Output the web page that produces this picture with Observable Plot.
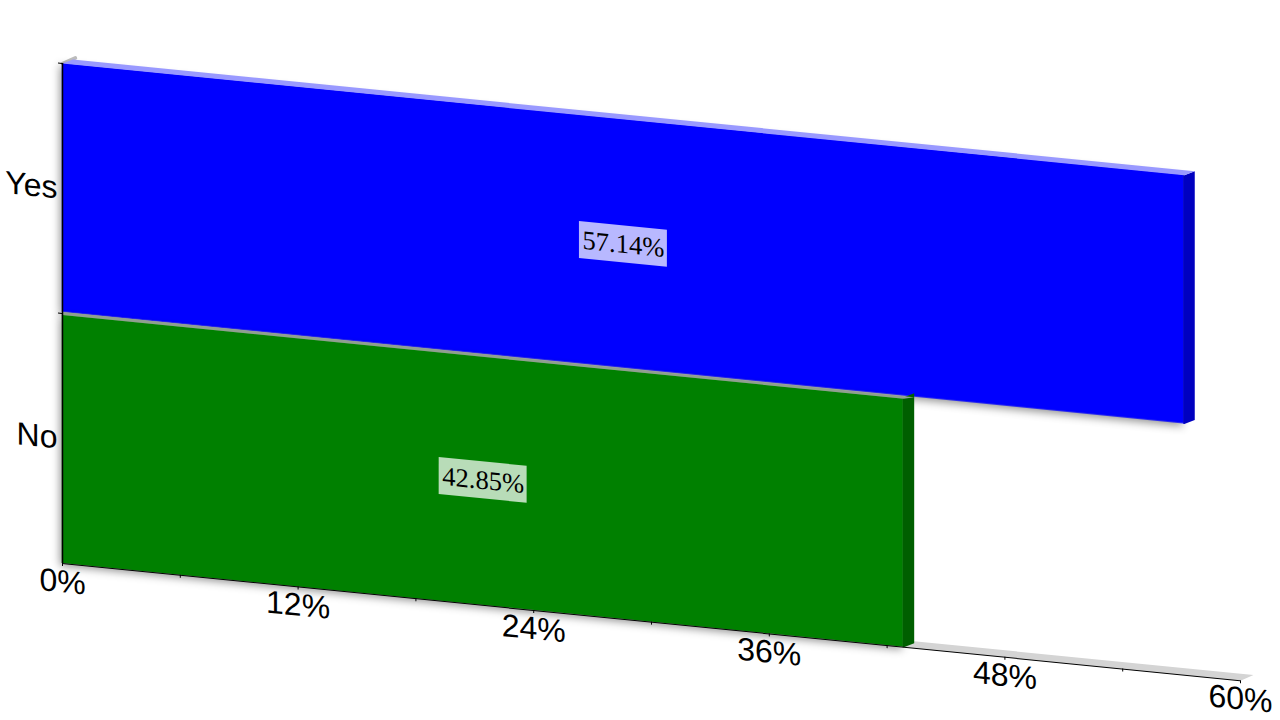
<!DOCTYPE html>
<html>
<head>
<meta charset="utf-8">
<script src="https://cdn.jsdelivr.net/npm/d3@7"></script>
<script src="https://cdn.jsdelivr.net/npm/@observablehq/plot@0.6"></script>
<style>
html,body{margin:0;padding:0;background:#fff;width:1280px;height:720px;overflow:hidden}
svg{display:block}
</style>
</head>
<body>
<div id="chart"></div>
<script>
const categories = ["No", "Yes"];
const values = [42.85, 57.14];
const labels = ["42.85%", "57.14%"];
const frontColors = ["#008000", "#0000ff"];
const sideColors = ["#005f00", "#0000c0"];
const topColors = ["#8f9f8f", "#9999ff"];
const xTicks = [0, 6, 12, 18, 24, 30, 36, 42, 48, 54, 60];
const xLabelled = [0, 12, 24, 36, 48, 60];
const yEdges = [1, 2];
const yCentres = [0.5, 1.5];
const xMax = 60, yMax = 2;
const depthX = 0.53, depthY = 0.02;
const floorDepthX = 0.66, floorDepthY = 0.028;
const labelHalfW = 2.24, labelHalfH = 0.074;
const seam = 0.06;

const bars = categories.map((c, i) => ({
  c, i, v: values[i], low: i, high: i + 1, label: labels[i],
  front: frontColors[i], side: sideColors[i], top: topColors[i]
}));

const poly = (pts, fill, extra = {}) =>
  Plot.line(pts, {x: "x", y: "y", fill, stroke: "none", ...extra});

const floor = [
  {x: 0, y: 0}, {x: xMax, y: 0},
  {x: xMax + floorDepthX, y: floorDepthY}, {x: floorDepthX, y: floorDepthY}
];
const wallTip = [
  {x: 0, y: yMax}, {x: floorDepthX, y: yMax + floorDepthY}
];

const marks = [
  poly(floor, "#d4d4d4"),
  Plot.line(wallTip, {x: "x", y: "y", stroke: "#bdbdbd", strokeWidth: 3.5})
];

for (const b of bars.slice().reverse()) {
  const bottom = b.low, top = b.high;
  const frontTop = b.i === 0 ? top - 0.005 : top;
  const frontBottom = b.i === 1 ? bottom + 0.005 : bottom;
  marks.push(
    Plot.rect([b], {
      x1: 0, x2: "v", y1: frontBottom, y2: frontTop, fill: "front",
      imageFilter: "drop-shadow(-2px 3px 4px rgba(0,0,0,.42))"
    }),
    poly([
      {x: b.v - seam, y: frontBottom}, {x: b.v, y: frontBottom}, {x: b.v + depthX, y: frontBottom + depthY},
      {x: b.v + depthX, y: top + depthY}, {x: b.v, y: top}, {x: b.v - seam, y: top}
    ], b.side),
    poly(b.i === 0
      ? [{x: 0, y: top - 0.006}, {x: b.v, y: top - 0.006}, {x: b.v + depthX, y: top + 0.004}, {x: depthX, y: top + 0.006}, {x: 0, y: top + 0.006}]
      : [{x: 0, y: top}, {x: b.v, y: top}, {x: b.v + depthX, y: top + depthY}, {x: depthX, y: top + depthY}],
      b.top)
  );
}

marks.push(
  Plot.rect(bars, {
    x1: d => d.v / 2 - labelHalfW, x2: d => d.v / 2 + labelHalfW,
    y1: d => (d.low + d.high) / 2 - labelHalfH, y2: d => (d.low + d.high) / 2 + labelHalfH,
    fill: "#fff", fillOpacity: 0.72
  }),
  Plot.text(bars, {
    x: d => d.v / 2, y: d => (d.low + d.high) / 2, text: "label",
    fontFamily: "Liberation Serif", fontSize: 26.6, fill: "#000"
  }),
  Plot.ruleX([0], {y1: 0, y2: yMax, stroke: "#000", strokeWidth: 1.5}),
  Plot.ruleY([0], {x1: 0, x2: xMax, stroke: "#000", strokeWidth: 1}),
  Plot.axisX({
    anchor: "bottom", ticks: xTicks, tickSize: 3, tickPadding: 3, stroke: "#000",
    tickFormat: v => xLabelled.includes(v) ? v + "%" : "",
    fontSize: 32, fill: "#000", label: null
  }),
  Plot.axisY({anchor: "left", ticks: yEdges, tickSize: 4, tickFormat: () => "", stroke: "#000", label: null}),
  Plot.axisY({
    anchor: "left", ticks: yCentres, tickSize: 0, tickPadding: 5,
    tickFormat: v => categories[Math.floor(v)], fontSize: 32, fill: "#000", label: null
  })
);

const chart = Plot.plot({
  width: 1280, height: 720,
  marginLeft: 62, marginRight: 40, marginTop: 63, marginBottom: 157,
  x: {domain: [0, xMax]},
  y: {domain: [0, yMax]},
  style: {background: "#fff", fontFamily: "Liberation Sans", overflow: "visible"},
  marks
});

// oblique projection of the whole chart, pivoting on the vertical axis
const skew = 0.0995, pivotX = 62;
const wrap = document.createElementNS("http://www.w3.org/2000/svg", "g");
wrap.setAttribute("transform", `matrix(1 ${skew} 0 1 0 ${-skew * pivotX})`);
[...chart.childNodes].forEach(n => {
  if (n.nodeName.toLowerCase() !== "style") wrap.appendChild(n);
});
chart.appendChild(wrap);
document.getElementById("chart").appendChild(chart);
</script>
</body>
</html>
